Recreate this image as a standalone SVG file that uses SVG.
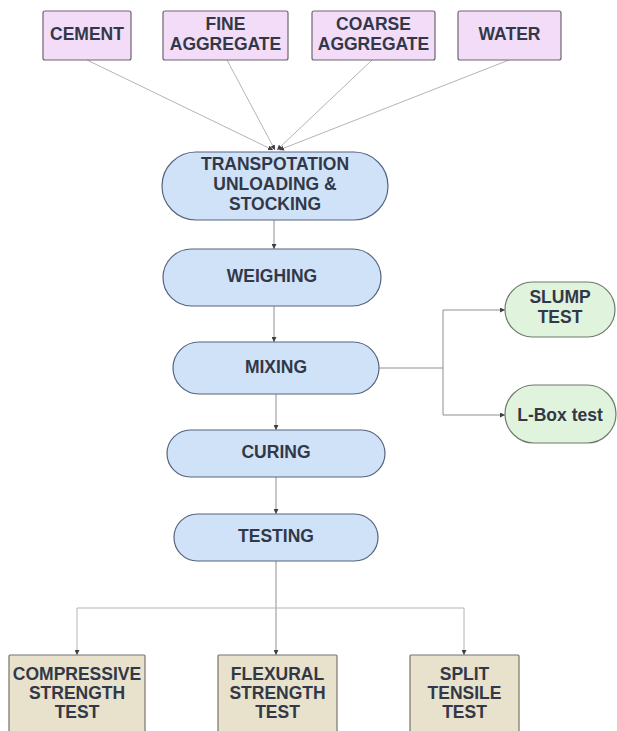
<svg xmlns="http://www.w3.org/2000/svg" width="617" height="731" viewBox="0 0 617 731">
<defs>
<style>
text{font-family:"Liberation Sans",Arial,sans-serif;font-weight:bold;font-size:17.5px;fill:#323847;text-anchor:middle}
.mat{fill:#f3dcf7;stroke:#6e6470;stroke-width:1.2}
.proc{fill:#cfe2f8;stroke:#56647e;stroke-width:1.2}
.chk{fill:#e0f3dc;stroke:#6f7a6c;stroke-width:1.2}
.res{fill:#e8e2cc;stroke:#77736a;stroke-width:1.2}
.c{fill:none;stroke:#8f8f94;stroke-width:1}
.cl{fill:none;stroke:#b4b4b8;stroke-width:1}
</style>
<marker id="ah" viewBox="0 0 6 6" refX="6" refY="3" markerWidth="5" markerHeight="5" markerUnits="userSpaceOnUse" orient="auto">
<path d="M0,0 L6,3 L0,6 z" fill="#3e3e46"/>
</marker>
</defs>
<rect width="617" height="731" fill="#ffffff"/>
<g id="connectors">
<path class="cl" d="M87,60 L273,150" marker-end="url(#ah)"/>
<path class="cl" d="M227,60 L275,150" marker-end="url(#ah)"/>
<path class="cl" d="M372,60 L277,150" marker-end="url(#ah)"/>
<path class="cl" d="M509,60 L279,150" marker-end="url(#ah)"/>
<path class="c" d="M274,220 V249" marker-end="url(#ah)"/>
<path class="c" d="M274,306 V342" marker-end="url(#ah)"/>
<path class="c" d="M276,394 V430" marker-end="url(#ah)"/>
<path class="c" d="M276,477 V514" marker-end="url(#ah)"/>
<path class="c" d="M379,368 H443 M443,310 V415"/>
<path class="c" d="M443,310 H505" marker-end="url(#ah)"/>
<path class="c" d="M443,415 H505" marker-end="url(#ah)"/>
<path class="c" d="M276,561 V655" marker-end="url(#ah)"/>
<path class="cl" d="M77,608 H464"/>
<path class="cl" d="M77,608 V655" marker-end="url(#ah)"/>
<path class="cl" d="M464,608 V655" marker-end="url(#ah)"/>
</g>
<g id="cement"><rect class="mat" x="43" y="11" width="88" height="49" rx="2"/><text x="87" y="40">CEMENT</text></g>
<g id="fine-aggregate"><rect class="mat" x="163" y="11" width="125" height="49" rx="2"/><text x="225.5" y="29.5">FINE</text><text x="225.5" y="49.5">AGGREGATE</text></g>
<g id="coarse-aggregate"><rect class="mat" x="312" y="11" width="123" height="49" rx="2"/><text x="373.5" y="29.5">COARSE</text><text x="373.5" y="49.5">AGGREGATE</text></g>
<g id="water"><rect class="mat" x="458" y="11" width="103" height="49" rx="2"/><text x="509.5" y="40">WATER</text></g>
<g id="transportation"><rect class="proc" x="162" y="152" width="226" height="68" rx="34"/><text x="275" y="169.5">TRANSPOTATION</text><text x="275" y="189.5">UNLOADING &amp;</text><text x="275" y="209.5">STOCKING</text></g>
<g id="weighing"><rect class="proc" x="163" y="249" width="218" height="57" rx="28.5"/><text x="272" y="282">WEIGHING</text></g>
<g id="mixing"><rect class="proc" x="173" y="342" width="206" height="52" rx="26"/><text x="276" y="372.5">MIXING</text></g>
<g id="curing"><rect class="proc" x="167" y="430" width="218" height="47" rx="23.5"/><text x="276" y="457.5">CURING</text></g>
<g id="testing"><rect class="proc" x="174" y="514" width="204" height="47" rx="23.5"/><text x="276" y="542">TESTING</text></g>
<g id="slump-test"><rect class="chk" x="505" y="282" width="110" height="55" rx="27.5"/><text x="560" y="302.5">SLUMP</text><text x="560" y="323">TEST</text></g>
<g id="l-box-test"><rect class="chk" x="505" y="385" width="111" height="58" rx="29"/><text x="560" y="421">L-Box test</text></g>
<g id="compressive"><rect class="res" x="9" y="655" width="136" height="82" rx="1"/><text x="77" y="679.5">COMPRESSIVE</text><text x="77" y="698.5">STRENGTH</text><text x="77" y="717.5">TEST</text></g>
<g id="flexural"><rect class="res" x="218" y="655" width="119" height="82" rx="1"/><text x="277.5" y="679.5">FLEXURAL</text><text x="277.5" y="698.5">STRENGTH</text><text x="277.5" y="717.5">TEST</text></g>
<g id="split-tensile"><rect class="res" x="410" y="655" width="109" height="82" rx="1"/><text x="464.5" y="679.5">SPLIT</text><text x="464.5" y="698.5">TENSILE</text><text x="464.5" y="717.5">TEST</text></g>
</svg>
